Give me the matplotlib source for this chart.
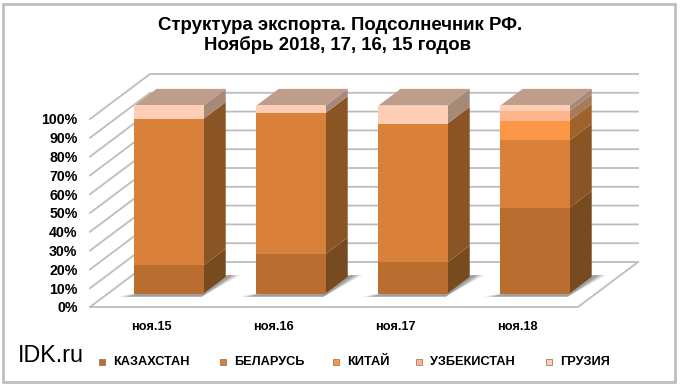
import matplotlib
matplotlib.use("Agg")
import matplotlib.pyplot as plt
from matplotlib.patches import Polygon, Rectangle

categories = ["ноя.15", "ноя.16", "ноя.17", "ноя.18"]
countries = ["КАЗАХСТАН", "БЕЛАРУСЬ", "КИТАЙ", "УЗБЕКИСТАН", "ГРУЗИЯ"]
kazakhstan = [15.0, 21.0, 16.6, 45.6]
belarus = [77.9, 75.0, 73.8, 35.8]
china = [0.0, 0.0, 0.0, 10.6]
uzbekistan = [0.0, 0.0, 0.0, 5.0]
georgia = [7.1, 4.0, 9.6, 3.0]
series = [kazakhstan, belarus, china, uzbekistan, georgia]

front_colors = ["#B96E30", "#D9803A", "#FA9646", "#FBB68E", "#FECDB6"]
side_colors = ["#774A1F", "#8A5425", "#A0622B", "#A87A5C", "#A58A78"]
top_color = "#BE9D8B"
grid_color = "#BDBDBD"

plt.rcParams["font.family"] = ["Liberation Sans", "DejaVu Sans"]
plt.rcParams["font.weight"] = "bold"

fig = plt.figure(figsize=(6.8, 3.85), dpi=100)
W, H = 680, 385
fig.patches.append(Rectangle((3 / W, 3 / H), 672 / W, 378 / H, transform=fig.transFigure,
                             fc="white", ec="#BEBEBE", lw=2, zorder=-1))

# floor front edge runs 90..578 px, 0-100% runs 307..119 px
ax = fig.add_axes([90 / W, (H - 307) / H, 488 / W, 188 / H])
ax.patch.set_alpha(0)
ax.set_xlim(-0.5, 3.5)
ax.set_ylim(0, 100)
for s in ax.spines.values():
    s.set_visible(False)

# depth direction, per unit of depth, in data units
dx = 60 / 122
dy = 45 / 1.88
d0, d1 = 0.30, 0.67
bar_w = 0.566


def proj(x, y, d):
    return (x + d * dx, y + d * dy)


# walls and floor
ticks = list(range(0, 101, 10))
for t in ticks:
    pts = [proj(-0.5, t, 0), proj(-0.5, t, 1), proj(3.5, t, 1)]
    ax.plot([p[0] for p in pts], [p[1] for p in pts], color=grid_color, lw=1.3,
            clip_on=False, zorder=1)
pts = [proj(-0.5, 0, 0), proj(3.5, 0, 0), proj(3.5, 0, 1)]
ax.plot([p[0] for p in pts], [p[1] for p in pts], color=grid_color, lw=1.3, clip_on=False, zorder=1)

for i in range(len(categories)):
    xl = i - bar_w / 2
    xr = i + bar_w / 2
    # shadow on the floor
    for grow, alpha in [(0.10, 0.15), (0.07, 0.25), (0.04, 0.3)]:
        sh = [proj(xl - 0.02 - grow, -1.0, d0 - 0.03), proj(xr, -1.0, d0 - 0.03),
              proj(xr + grow, 0, d1 + 0.04), proj(xr, 0, d1 + 0.04)]
        ax.add_patch(Polygon(sh, fc="#555555", ec="none", alpha=alpha, clip_on=False, zorder=2))

    bottom = 0
    for vals, fc, sc in zip(series, front_colors, side_colors):
        v = vals[i]
        if v > 0:
            fx, fy = proj(i, bottom, d0)
            ax.bar(fx, v, bar_w, bottom=fy, color=fc, clip_on=False, zorder=4)
            side = [proj(xr, bottom, d0), proj(xr, bottom, d1),
                    proj(xr, bottom + v, d1), proj(xr, bottom + v, d0)]
            ax.add_patch(Polygon(side, fc=sc, ec="none", clip_on=False, zorder=3))
        bottom += v
    top = [proj(xl, bottom, d0), proj(xr, bottom, d0), proj(xr, bottom, d1), proj(xl, bottom, d1)]
    ax.add_patch(Polygon(top, fc=top_color, ec="none", clip_on=False, zorder=3))

ax.set_yticks(ticks)
ax.set_yticklabels([str(t) + "%" for t in ticks], fontsize=10.2)
ax.set_xticks(range(len(categories)))
ax.set_xticklabels(categories, fontsize=9.2)
ax.tick_params(axis="both", length=0)
ax.tick_params(axis="y", pad=9)
ax.tick_params(axis="x", pad=10)

fig.text(340 / W, 1 - 25 / H, "Структура экспорта. Подсолнечник РФ.", ha="center", va="center", fontsize=13.4)
fig.text(338 / W, 1 - 45 / H, "Ноябрь 2018, 17, 16, 15 годов", ha="center", va="center", fontsize=13.4)
fig.text(18 / W, 1 - 356 / H, "IDK.ru", ha="left", va="center", fontsize=16.8, weight="normal")

# legend
legend_x = [99, 220, 333, 416, 546]
for name, x, fc in zip(countries, legend_x, front_colors):
    fig.patches.append(Rectangle((x / W, 1 - 365 / H), 6 / W, 6 / H, transform=fig.transFigure,
                                 fc=fc, ec="#8A6A50", lw=0.5))
    fig.text((x + 14) / W, 1 - 362 / H, name, ha="left", va="center", fontsize=9.2)

fig.savefig("out.png", dpi=100)
